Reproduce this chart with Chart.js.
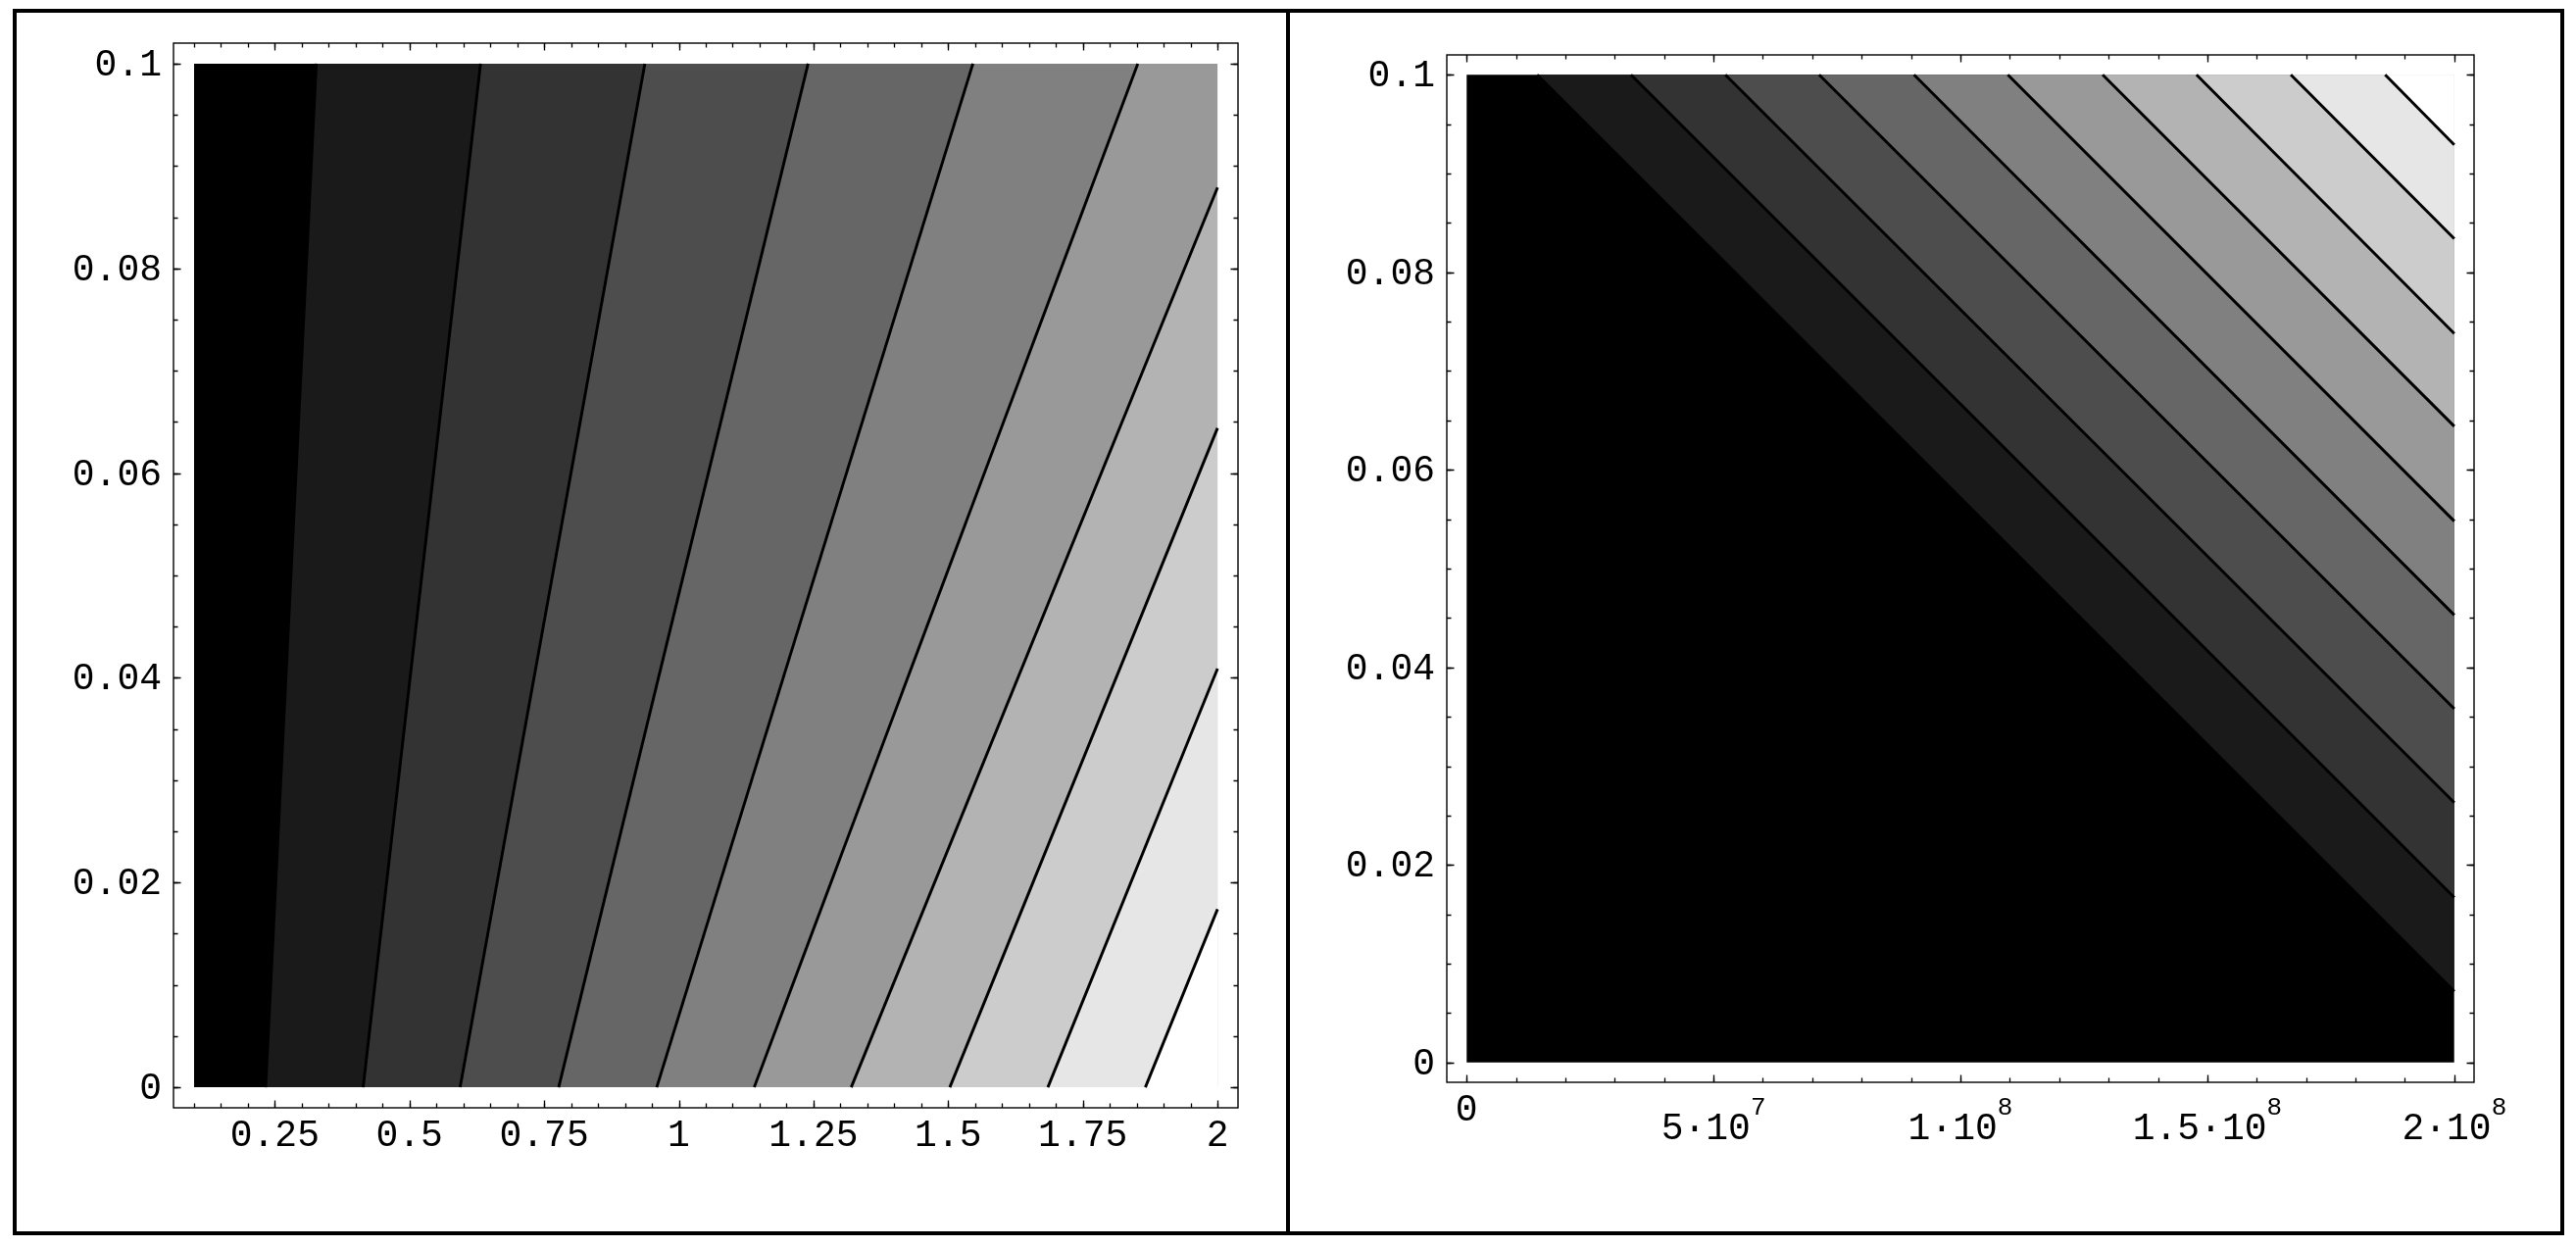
<!DOCTYPE html>
<html>
<head>
<meta charset="utf-8">
<title>Contour plots</title>
<script src="https://cdn.jsdelivr.net/npm/chart.js@4.4.0/dist/chart.umd.min.js"></script>
<style>
  html, body { margin: 0; padding: 0; background: #fff; }
  body { width: 2628px; height: 1272px; position: relative; overflow: hidden; }
  canvas { position: absolute; left: 0; top: 0; }
  .box { position: absolute; left: 13px; top: 9px; width: 2603px; height: 1251px; border: 4px solid #000; box-sizing: border-box; }
  .divider { position: absolute; left: 1312px; top: 9px; width: 4px; height: 1251px; background: #000; }
</style>
</head>
<body>
<div class="box"></div>
<div class="divider"></div>
<canvas id="left-plot" width="2628" height="1272"></canvas>
<canvas id="right-plot" width="2628" height="1272"></canvas>
<script>
// Left panel: x from 0.1 to 2, y from 0 to 0.1
const leftXRange = [0.1, 2];
const leftYRange = [0, 0.1];
const leftXTicks = [0.25, 0.5, 0.75, 1, 1.25, 1.5, 1.75, 2];
const leftXTickLabels = ['0.25', '0.5', '0.75', '1', '1.25', '1.5', '1.75', '2'];
const leftXMinorStep = 0.05;
const leftYTicks = [0, 0.02, 0.04, 0.06, 0.08, 0.1];
const leftYTickLabels = ['0', '0.02', '0.04', '0.06', '0.08', '0.1'];
const leftYMinorStep = 0.005;

// contour lines: where each leaves the bottom edge,
// and where it meets the top edge (first six) or the right edge (last four)
const leftContourBottomX = [0.233, 0.414, 0.594, 0.777, 0.959, 1.140, 1.320, 1.503, 1.685, 1.866];
const leftContourTopX = [0.327, 0.632, 0.937, 1.240, 1.546, 1.852, null, null, null, null];
const leftContourRightY = [null, null, null, null, null, null, 0.0879, 0.0644, 0.0409, 0.0174];

// Right panel: x from 0 to 2e8, y from 0 to 0.1
const rightXRange = [0, 2e8];
const rightYRange = [0, 0.1];
const rightXTicks = [0, 5e7, 1e8, 1.5e8, 2e8];
const rightXTickLabels = ['0', '5·10^7', '1·10^8', '1.5·10^8', '2·10^8'];
const rightXMinorStep = 1e7;
const rightYTicks = [0, 0.02, 0.04, 0.06, 0.08, 0.1];
const rightYTickLabels = ['0', '0.02', '0.04', '0.06', '0.08', '0.1'];
const rightYMinorStep = 0.005;

// every contour runs from the top edge down to the right edge
const rightContourTopX = [1.43e7, 3.33e7, 5.24e7, 7.14e7, 9.06e7, 1.096e8, 1.288e8, 1.478e8, 1.669e8, 1.86e8];
const rightContourRightY = [0.0072, 0.0167, 0.0263, 0.0358, 0.0453, 0.0548, 0.0644, 0.0738, 0.0834, 0.0929];

const NUM_LEVELS = 10;
const FONT = '"Liberation Mono", "Courier New", monospace';

function grayLevel(k) {
    const g = Math.round(255 * k / NUM_LEVELS);
    return `rgb(${g}, ${g}, ${g})`;
}

function band(points, k, base) {
    return {
        data: points,
        backgroundColor: grayLevel(k),
        borderColor: 'rgba(0, 0, 0, 0)',
        borderWidth: 0,
        fill: { value: base },
        pointRadius: 0,
        order: 100 - k
    };
}

function contour(points) {
    return {
        data: points,
        borderColor: '#000',
        borderWidth: 2.9,
        fill: false,
        pointRadius: 0,
        order: 0
    };
}

function leftDatasets() {
    const ds = [];
    ds.push(band([{x: leftXRange[0], y: leftYRange[1]}, {x: leftXRange[1], y: leftYRange[1]}], 0, leftYRange[0]));
    leftContourBottomX.forEach((xb, i) => {
        const line = [{x: xb, y: leftYRange[0]}];
        const region = [{x: xb, y: leftYRange[0]}];
        if (leftContourTopX[i] !== null) {
            line.push({x: leftContourTopX[i], y: leftYRange[1]});
            region.push({x: leftContourTopX[i], y: leftYRange[1]});
            region.push({x: leftXRange[1], y: leftYRange[1]});
        } else {
            line.push({x: leftXRange[1], y: leftContourRightY[i]});
            region.push({x: leftXRange[1], y: leftContourRightY[i]});
        }
        ds.push(band(region, i + 1, leftYRange[0]));
        ds.push(contour(line));
    });
    return ds;
}

function rightDatasets() {
    const ds = [];
    ds.push(band([{x: rightXRange[0], y: rightYRange[1]}, {x: rightXRange[1], y: rightYRange[1]}], 0, rightYRange[0]));
    rightContourTopX.forEach((xt, i) => {
        const line = [{x: xt, y: rightYRange[1]}, {x: rightXRange[1], y: rightContourRightY[i]}];
        ds.push(band(line.slice(), i + 1, rightYRange[1]));
        ds.push(contour(line));
    });
    return ds;
}

function minorValues(range, step) {
    const n = Math.round((range[1] - range[0]) / step);
    const out = [];
    for (let i = 0; i <= n; i++) out.push(range[0] + i * step);
    return out;
}

// Mathematica-style frame: inward ticks on all four sides, labels left and bottom
const framePlugin = {
    id: 'mmaFrame',
    afterDraw(chart, args, opts) {
        const {ctx, chartArea: a, scales} = chart;
        const sx = scales.x, sy = scales.y;
        ctx.save();
        ctx.strokeStyle = '#000';
        ctx.lineWidth = 1.4;
        ctx.strokeRect(a.left, a.top, a.right - a.left, a.bottom - a.top);

        const drawX = (v, len) => {
            const px = Math.round(sx.getPixelForValue(v)) + 0.5;
            ctx.beginPath();
            ctx.moveTo(px, a.bottom); ctx.lineTo(px, a.bottom - len);
            ctx.moveTo(px, a.top); ctx.lineTo(px, a.top + len);
            ctx.stroke();
        };
        const drawY = (v, len) => {
            const py = Math.round(sy.getPixelForValue(v)) + 0.5;
            ctx.beginPath();
            ctx.moveTo(a.left, py); ctx.lineTo(a.left + len, py);
            ctx.moveTo(a.right, py); ctx.lineTo(a.right - len, py);
            ctx.stroke();
        };
        ctx.lineWidth = 1.3;
        minorValues(opts.xRange, opts.xMinorStep).forEach(v => drawX(v, 4.5));
        opts.xTicks.forEach(v => drawX(v, 7.5));
        minorValues(opts.yRange, opts.yMinorStep).forEach(v => drawY(v, 4.5));
        opts.yTicks.forEach(v => drawY(v, 7.5));

        ctx.fillStyle = '#000';
        ctx.textBaseline = 'alphabetic';
        // y labels
        ctx.font = '38px ' + FONT;
        ctx.textAlign = 'right';
        opts.yTicks.forEach((v, i) => {
            ctx.fillText(opts.yLabels[i], a.left - 12, sy.getPixelForValue(v) + 12);
        });
        // x labels, some with a power of ten
        ctx.textAlign = 'left';
        opts.xTicks.forEach((v, i) => {
            const px = sx.getPixelForValue(v);
            const parts = opts.xLabels[i].split('^');
            ctx.font = '38px ' + FONT;
            const wb = ctx.measureText(parts[0]).width;
            if (parts.length === 1) {
                ctx.fillText(parts[0], px - wb / 2, a.bottom + 39);
                return;
            }
            ctx.font = '26px ' + FONT;
            const ws = ctx.measureText(parts[1]).width;
            const x0 = px - (wb + ws) / 2;
            ctx.fillText(parts[1], x0 + wb, a.bottom + 33);
            ctx.font = '38px ' + FONT;
            ctx.fillText(parts[0], x0, a.bottom + 58);
        });
        ctx.restore();
    }
};

function makeChart(canvasId, datasets, xRange, yRange, padding, axes) {
    const padX = (xRange[1] - xRange[0]) * 0.02;
    const padY = (yRange[1] - yRange[0]) * 0.02;
    return new Chart(document.getElementById(canvasId), {
        type: 'line',
        data: { datasets: datasets },
        options: {
            responsive: false,
            animation: false,
            devicePixelRatio: 1,
            events: [],
            layout: { padding: padding },
            scales: {
                x: { type: 'linear', display: false, min: xRange[0] - padX, max: xRange[1] + padX },
                y: { type: 'linear', display: false, min: yRange[0] - padY, max: yRange[1] + padY }
            },
            plugins: {
                legend: { display: false },
                tooltip: { enabled: false },
                mmaFrame: Object.assign({ xRange: xRange, yRange: yRange }, axes)
            }
        },
        plugins: [framePlugin]
    });
}

makeChart('left-plot', leftDatasets(), leftXRange, leftYRange,
    { left: 177, top: 44, right: 1365, bottom: 142 },
    { xTicks: leftXTicks, xLabels: leftXTickLabels, xMinorStep: leftXMinorStep,
      yTicks: leftYTicks, yLabels: leftYTickLabels, yMinorStep: leftYMinorStep });

makeChart('right-plot', rightDatasets(), rightXRange, rightYRange,
    { left: 1476, top: 56, right: 104, bottom: 168 },
    { xTicks: rightXTicks, xLabels: rightXTickLabels, xMinorStep: rightXMinorStep,
      yTicks: rightYTicks, yLabels: rightYTickLabels, yMinorStep: rightYMinorStep });
</script>
</body>
</html>
